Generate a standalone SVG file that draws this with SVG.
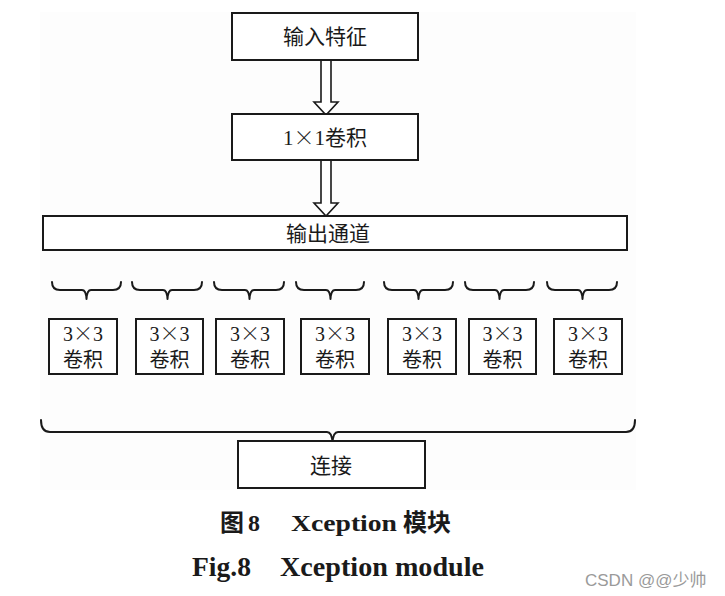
<svg xmlns="http://www.w3.org/2000/svg" width="725" height="596" viewBox="0 0 725 596">
<defs>
<style>
.box{fill:#fff;stroke:#1a1a1a;stroke-width:2}
.arr{fill:#fff;stroke:#1a1a1a;stroke-width:1.6;stroke-linejoin:miter}
.br{fill:none;stroke:#1a1a1a;stroke-width:2;stroke-linecap:round;stroke-linejoin:round}
.t{font-family:"Liberation Serif","Noto Sans CJK SC",serif;font-size:21px;fill:#1a1a1a;text-anchor:middle}
.s{font-family:"Liberation Serif","Noto Sans CJK SC",serif;font-size:20px;fill:#1a1a1a;text-anchor:middle}
.x{font-family:"Noto Sans CJK SC",sans-serif;font-weight:300}
.cap{font-family:"Liberation Serif","Noto Sans CJK SC",serif;font-weight:bold;fill:#1a1a1a}
.wm{font-family:"Liberation Sans","Noto Sans CJK SC",sans-serif;font-size:17px;fill:#9a9a9a}
</style>
</defs>
<rect width="725" height="596" fill="#fff"/>
<rect x="40" y="12" width="596" height="478" fill="#fdfdfd"/>

<g id="connectors">
<polygon class="arr" points="321,60 331,60 331,102 338,102 326,115 314,102 321,102"/>
<polygon class="arr" points="321,160 331,160 331,203 338,203 326,216 314,203 321,203"/>
<path class="br" d="M52,282 Q52,290 60,290 L82,290 Q86,290 86.5,299 Q87,290 91,290 L113,290 Q121,290 121,282"/>
<path class="br" d="M132,282 Q132,290 140,290 L163,290 Q167,290 167.5,299 Q168,290 172,290 L194,290 Q202,290 202,282"/>
<path class="br" d="M214,282 Q214,290 222,290 L245,290 Q249,290 249.5,299 Q250,290 254,290 L276,290 Q284,290 284,282"/>
<path class="br" d="M296,282 Q296,290 304,290 L326,290 Q330,290 330.5,299 Q331,290 335,290 L356,290 Q364,290 364,282"/>
<path class="br" d="M384,282 Q384,290 392,290 L414,290 Q418,290 418.5,299 Q419,290 423,290 L445,290 Q453,290 453,282"/>
<path class="br" d="M465,282 Q465,290 473,290 L495,290 Q499,290 499.5,299 Q500,290 504,290 L526,290 Q534,290 534,282"/>
<path class="br" d="M547,282 Q547,290 555,290 L578,290 Q582,290 582.5,299 Q583,290 587,290 L609,290 Q617,290 617,282"/>
<path class="br" d="M41,420 Q41,432 50,432 L327,432 Q332,432 332.5,443 Q333,432 338,432 L626,432 Q635,432 635,420"/>
</g>

<g id="input">
<rect class="box" x="232" y="13" width="186" height="47"/>
<text class="t" x="325" y="44">输入特征</text>
</g>
<g id="conv1x1">
<rect class="box" x="232" y="114" width="186" height="46"/>
<text class="t" x="325" y="145">1<tspan class="x">×</tspan>1卷积</text>
</g>
<g id="channels">
<rect class="box" x="43" y="216" width="584" height="34"/>
<text class="t" x="328" y="241">输出通道</text>
</g>
<g id="c1"><rect class="box" x="49" y="319" width="68" height="55"/><text class="s" x="83" y="341">3<tspan class="x">×</tspan>3</text><text class="s" x="83" y="367">卷积</text></g>
<g id="c2"><rect class="box" x="136" y="319" width="67" height="55"/><text class="s" x="169.5" y="341">3<tspan class="x">×</tspan>3</text><text class="s" x="169.5" y="367">卷积</text></g>
<g id="c3"><rect class="box" x="216" y="319" width="68" height="55"/><text class="s" x="250" y="341">3<tspan class="x">×</tspan>3</text><text class="s" x="250" y="367">卷积</text></g>
<g id="c4"><rect class="box" x="301" y="319" width="68" height="55"/><text class="s" x="335" y="341">3<tspan class="x">×</tspan>3</text><text class="s" x="335" y="367">卷积</text></g>
<g id="c5"><rect class="box" x="388" y="319" width="68" height="55"/><text class="s" x="422" y="341">3<tspan class="x">×</tspan>3</text><text class="s" x="422" y="367">卷积</text></g>
<g id="c6"><rect class="box" x="469" y="319" width="67" height="55"/><text class="s" x="502.5" y="341">3<tspan class="x">×</tspan>3</text><text class="s" x="502.5" y="367">卷积</text></g>
<g id="c7"><rect class="box" x="554" y="319" width="68" height="55"/><text class="s" x="588" y="341">3<tspan class="x">×</tspan>3</text><text class="s" x="588" y="367">卷积</text></g>
<g id="concat">
<rect class="box" x="238" y="441" width="187" height="47"/>
<text class="t" x="331" y="473">连接</text>
</g>

<g id="caption">
<text class="cap" font-size="24" y="531"><tspan x="220">图</tspan><tspan x="248">8</tspan><tspan x="291" textLength="106" lengthAdjust="spacingAndGlyphs">Xception</tspan><tspan x="403">模块</tspan></text>
<text class="cap" font-size="27" y="576"><tspan x="192" textLength="59" lengthAdjust="spacingAndGlyphs">Fig.8</tspan><tspan x="280" textLength="204" lengthAdjust="spacingAndGlyphs">Xception module</tspan></text>
<text class="wm" x="585" y="586">CSDN @@少帅</text>
</g>
</svg>
